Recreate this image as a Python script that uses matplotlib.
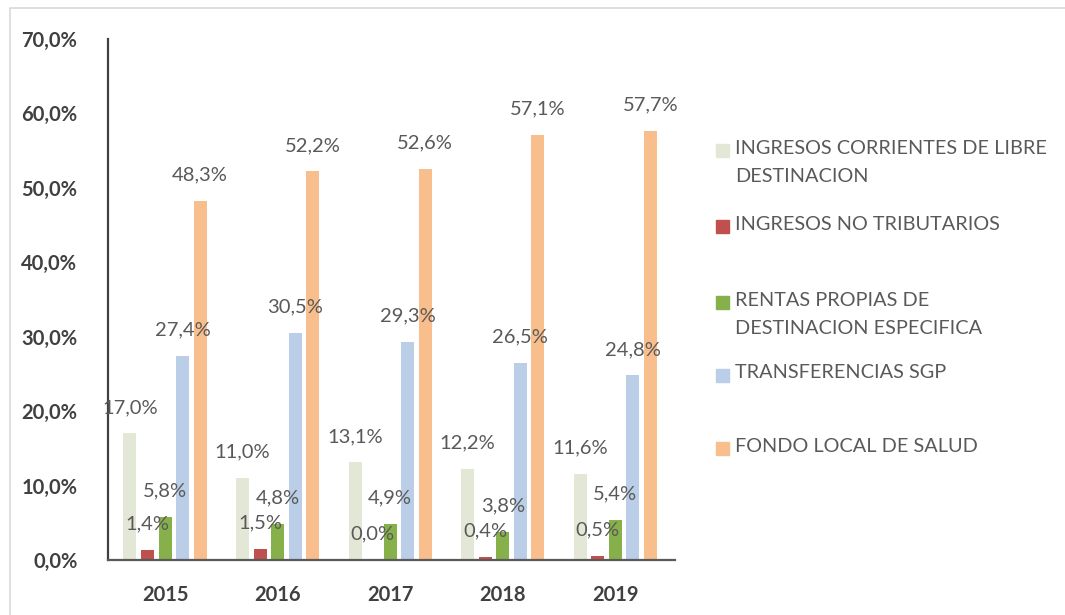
import numpy as np
import matplotlib
matplotlib.use("Agg")
import matplotlib.pyplot as plt
from matplotlib.patches import Rectangle

plt.rcParams["font.family"] = ["Lato", "DejaVu Sans"]

years = ["2015", "2016", "2017", "2018", "2019"]
series_names = [
    "INGRESOS CORRIENTES DE LIBRE\nDESTINACION",
    "INGRESOS NO TRIBUTARIOS",
    "RENTAS PROPIAS DE\nDESTINACION ESPECIFICA",
    "TRANSFERENCIAS SGP",
    "FONDO LOCAL DE SALUD",
]
libre_destinacion = [17.0, 11.0, 13.1, 12.2, 11.6]
no_tributarios = [1.4, 1.5, 0.0, 0.4, 0.5]
rentas_propias = [5.8, 4.8, 4.9, 3.8, 5.4]
transferencias_sgp = [27.4, 30.5, 29.3, 26.5, 24.8]
fondo_salud = [48.3, 52.2, 52.6, 57.1, 57.7]
yticks = [0, 10, 20, 30, 40, 50, 60, 70]

series = [libre_destinacion, no_tributarios, rentas_propias,
          transferencias_sgp, fondo_salud]
colors = ["#E3E7D6", "#C0504D", "#86B04A", "#BACEE8", "#F8BE8C"]

W, H = 1065, 615
fig = plt.figure(figsize=(W / 100, H / 100), dpi=100)

# background layer in pixel coordinates (frame + legend)
bg = fig.add_axes([0, 0, 1, 1])
bg.set_xlim(0, W)
bg.set_ylim(H, 0)
bg.axis("off")
bg.plot([10, 10, W + 5], [H + 5, 8, 8], color="#d9d9d9", lw=1.2)

ax = fig.add_axes([108 / W, 1 - 560 / H, (675 - 108) / W, (560 - 39) / H])
ax.patch.set_alpha(0)

x = np.arange(len(years))
step = 0.156
width = 0.115
for i, (vals, c) in enumerate(zip(series, colors)):
    pos = x + (i - 2) * step
    ax.bar(pos, vals, width=width, color=c, zorder=2)
    for xp, v in zip(pos, vals):
        ax.annotate(f"{v:.1f}%".replace(".", ","), (xp, v),
                    xytext=(0, 26), textcoords="offset pixels",
                    ha="center", va="center", fontsize=14.5,
                    color="#595959", zorder=3)

ax.set_xlim(-0.507, 4.53)
ax.set_ylim(0, 70)
ax.set_xticks(x)
ax.set_xticklabels(years)
ax.set_yticks(yticks)
ax.set_yticklabels([f"{t:.1f}%".replace(".", ",") for t in yticks])
ax.tick_params(axis="both", length=0, labelsize=14.5, labelcolor="#404040")
ax.tick_params(axis="x", pad=18)
ax.tick_params(axis="y", pad=22)
for lab in ax.get_xticklabels() + ax.get_yticklabels():
    lab.set_fontweight("bold")
ax.spines["top"].set_visible(False)
ax.spines["right"].set_visible(False)
ax.spines["left"].set_color("#404040")
ax.spines["left"].set_linewidth(1.6)
ax.spines["bottom"].set_color("#595959")
ax.spines["bottom"].set_linewidth(1.6)

# legend, Excel style
legend_y = [150, 226, 302, 375, 448]
for name, c, ly in zip(series_names, colors, legend_y):
    bg.add_patch(Rectangle((716, ly - 6.5), 13, 13, color=c))
    bg.text(735, ly - 10.5, name, ha="left", va="top", fontsize=14.3,
            color="#595959", linespacing=1.85)

fig.savefig("out.png", dpi=100)
